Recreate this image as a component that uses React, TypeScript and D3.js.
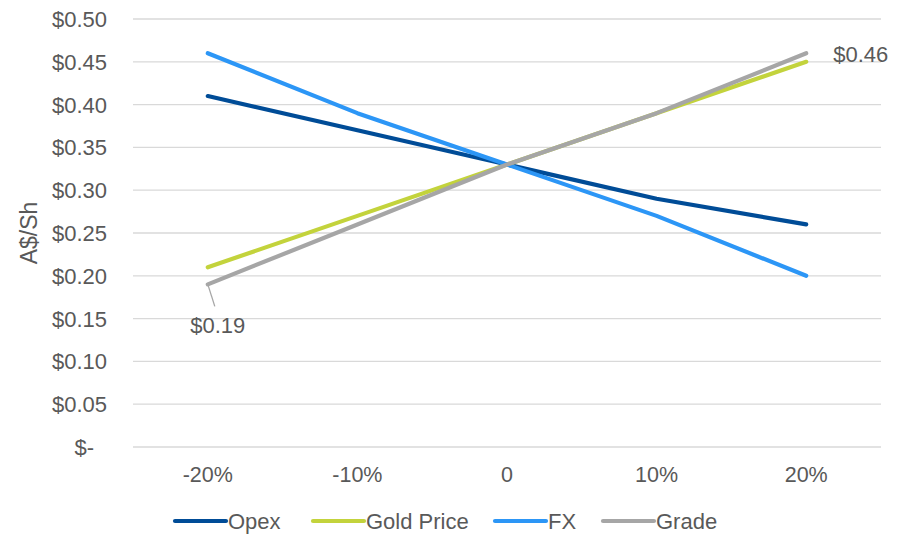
import React from "react";
import * as d3 from "d3";

const categories = ["-20%", "-10%", "0", "10%", "20%"];
const opex = [0.41, 0.37, 0.33, 0.29, 0.26];
const goldPrice = [0.21, 0.27, 0.33, 0.39, 0.45];
const fx = [0.46, 0.39, 0.33, 0.27, 0.2];
const grade = [0.19, 0.26, 0.33, 0.39, 0.46];
const yTicks = [0, 0.05, 0.1, 0.15, 0.2, 0.25, 0.3, 0.35, 0.4, 0.45, 0.5];

const seriesList = [
  { name: "Opex", values: opex, color: "#004C97" },
  { name: "Gold Price", values: goldPrice, color: "#C3D33C" },
  { name: "FX", values: fx, color: "#2C96F6" },
  { name: "Grade", values: grade, color: "#A6A6A6" },
];

const W = 905;
const H = 534;
const FONT = "'Liberation Sans', Arial, sans-serif";
const TEXT = "#595959";

export default function App() {
  const x = d3.scaleBand<string>().domain(categories).range([133, 881]).padding(0);
  const y = d3.scaleLinear().domain([0, 0.5]).range([447, 19]);
  const cx = (c: string) => (x(c) ?? 0) + x.bandwidth() / 2;

  const line = d3
    .line<number>()
    .x((_, i) => cx(categories[i]))
    .y((v) => y(v));

  const fmt = (v: number) => (v === 0 ? "$-" : "$" + v.toFixed(2));

  // legend entries laid out left to right
  const legendX = [175, 313, 495, 603];

  const gradeFirst = { x: cx(categories[0]), y: y(grade[0]) };
  const gradeLast = { x: cx(categories[4]), y: y(grade[4]) };

  return (
    <svg
      width={W}
      height={H}
      style={{ position: "absolute", left: 0, top: 0, background: "#fff" }}
      fontFamily={FONT}
    >
      {/* gridlines */}
      {yTicks.map((t) => (
        <line
          key={"g" + t}
          x1={133}
          x2={881}
          y1={y(t)}
          y2={y(t)}
          stroke="#D9D9D9"
          strokeWidth={1.3}
        />
      ))}
      {/* y tick labels */}
      {yTicks.map((t) => (
        <text
          key={"yt" + t}
          x={t === 0 ? 94 : 107}
          y={y(t)}
          dy="0.36em"
          textAnchor="end"
          fontSize={22}
          fill={TEXT}
        >
          {fmt(t)}
        </text>
      ))}
      {/* axis title */}
      <text
        transform={`translate(37,233) rotate(-90)`}
        textAnchor="middle"
        fontSize={23}
        fill={TEXT}
      >
        A$/Sh
      </text>
      {/* x tick labels */}
      {categories.map((c) => (
        <text key={"xt" + c} x={cx(c)} y={482} textAnchor="middle" fontSize={21.5} fill={TEXT}>
          {c}
        </text>
      ))}
      {/* series lines */}
      {seriesList.map((s) => (
        <path
          key={s.name}
          d={line(s.values) ?? ""}
          fill="none"
          stroke={s.color}
          strokeWidth={4.2}
          strokeLinecap="round"
          strokeLinejoin="round"
        />
      ))}
      {/* data labels on Grade */}
      <line
        x1={gradeFirst.x}
        y1={gradeFirst.y}
        x2={gradeFirst.x + 7}
        y2={gradeFirst.y + 22}
        stroke="#A6A6A6"
        strokeWidth={1.3}
      />
      <text x={gradeFirst.x + 10} y={333} textAnchor="middle" fontSize={22} fill={TEXT}>
        {"$" + grade[0].toFixed(2)}
      </text>
      <text x={gradeLast.x + 27} y={gradeLast.y + 8.5} fontSize={22} fill={TEXT}>
        {"$" + grade[4].toFixed(2)}
      </text>
      {/* legend */}
      {seriesList.map((s, i) => (
        <g key={"lg" + s.name} transform={`translate(${legendX[i]},521)`}>
          <line x1={0} x2={51} y1={0} y2={0} stroke={s.color} strokeWidth={4.2} strokeLinecap="round" />
          <text x={53} y={7.5} fontSize={22} fill={TEXT}>
            {s.name}
          </text>
        </g>
      ))}
    </svg>
  );
}
